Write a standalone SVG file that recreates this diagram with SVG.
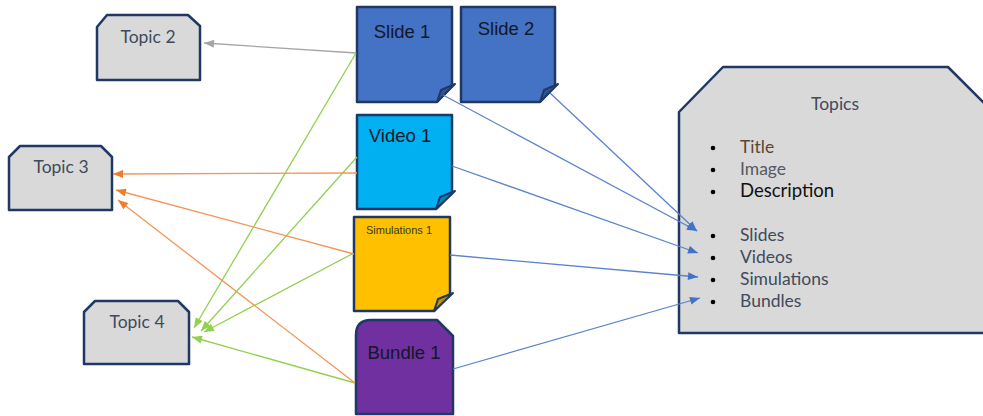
<svg xmlns="http://www.w3.org/2000/svg" width="983" height="416" viewBox="0 0 983 416">
<style>
.box{stroke:#1f3864;stroke-width:2.5;stroke-linejoin:round}
.topic{fill:#d9d9d9}
.tt{font-family:Lato,"Open Sans","Liberation Sans",sans-serif;font-size:17.5px;fill:#3f4a5c;text-anchor:middle}
.nt{font-family:"Liberation Sans",Arial,sans-serif;font-size:18.5px;fill:#111827;text-anchor:middle}
.li{font-family:Lato,"Open Sans","Liberation Sans",sans-serif;font-size:17.5px;fill:#3f4a5c}
.bul{fill:#000}
.c{fill:none;stroke-width:1.3}
.grey{stroke:#a6a6a6}
.green{stroke:#92d050}
.orange{stroke:#f4955a}
.blue{stroke:#5b82cc}
</style>
<defs>
<marker id="ag" viewBox="0 0 10 8" refX="10" refY="4" markerWidth="11" markerHeight="8" markerUnits="userSpaceOnUse" orient="auto"><path d="M0,0 L10,4 L0,8 z" fill="#a6a6a6"/></marker>
<marker id="agr" viewBox="0 0 10 8" refX="10" refY="4" markerWidth="11" markerHeight="8" markerUnits="userSpaceOnUse" orient="auto"><path d="M0,0 L10,4 L0,8 z" fill="#92d050"/></marker>
<marker id="ao" viewBox="0 0 10 8" refX="10" refY="4" markerWidth="11" markerHeight="8" markerUnits="userSpaceOnUse" orient="auto"><path d="M0,0 L10,4 L0,8 z" fill="#ed7d31"/></marker>
<marker id="ab" viewBox="0 0 10 8" refX="10" refY="4" markerWidth="11" markerHeight="8" markerUnits="userSpaceOnUse" orient="auto"><path d="M0,0 L10,4 L0,8 z" fill="#4472c4"/></marker>
</defs>

<g id="topic2">
<polygon class="box topic" points="107,15 188,15 200,26 200,80 97,80 97,27"/>
<text class="tt" x="148" y="43">Topic 2</text>
</g>
<g id="topic3">
<polygon class="box topic" points="20,146 101,146 112,157 112,210 9,210 9,157"/>
<text class="tt" x="61" y="173">Topic 3</text>
</g>
<g id="topic4">
<polygon class="box topic" points="95,301 178,301 189,312 189,364 84,364 84,312"/>
<text class="tt" x="137" y="328">Topic 4</text>
</g>

<g id="slide1">
<polygon class="box" fill="#4472c4" points="357,7 452,7 452,86 437,102 357,102"/>
<path d="M437,102 L441,90 L455,84 Z" fill="#2f5597" stroke="#1f3864" stroke-width="2" stroke-linejoin="round"/>
<text class="nt" x="402" y="38">Slide 1</text>
</g>
<g id="slide2">
<polygon class="box" fill="#4472c4" points="461,7 555,7 555,86 540,102 461,102"/>
<path d="M540,102 L544,90 L558,84 Z" fill="#2f5597" stroke="#1f3864" stroke-width="2" stroke-linejoin="round"/>
<text class="nt" x="506" y="35">Slide 2</text>
</g>
<g id="video1">
<polygon class="box" fill="#00b0f0" points="357,115 452,115 452,193 436,209 357,209"/>
<path d="M436,209 L440,197 L455,191 Z" fill="#0086c0" stroke="#1f3864" stroke-width="2" stroke-linejoin="round"/>
<text class="nt" x="400" y="142">Video 1</text>
</g>
<g id="simulations1">
<polygon class="box" fill="#ffc000" points="354,217 450,217 450,295 434,311 354,311"/>
<path d="M434,311 L438,299 L453,293 Z" fill="#c49000" stroke="#1f3864" stroke-width="2" stroke-linejoin="round"/>
<text x="399" y="234" font-family="'Liberation Sans',Arial,sans-serif" font-size="11" fill="#3a3a1a" text-anchor="middle">Simulations 1</text>
</g>
<g id="bundle1">
<path class="box" fill="#7030a0" d="M371,320 L437,320 L453,336 L453,414 L356,414 L356,335 Q356,320 371,320 Z"/>
<text class="nt" x="404" y="359">Bundle 1</text>
</g>

<g id="topics">
<polygon class="box topic" points="723,67 948,67 992,111 992,333 679,333 679,112"/>
<text class="tt" x="835" y="110">Topics</text>
<circle class="bul" cx="713" cy="148" r="2.3"/>
<circle class="bul" cx="713" cy="170" r="2.3"/>
<circle class="bul" cx="713" cy="192" r="2.3"/>
<circle class="bul" cx="713" cy="236" r="2.3"/>
<circle class="bul" cx="713" cy="258" r="2.3"/>
<circle class="bul" cx="713" cy="280" r="2.3"/>
<circle class="bul" cx="713" cy="302" r="2.3"/>
<text class="li" x="740" y="153" style="fill:#5a4632">Title</text>
<text class="li" x="740" y="175" style="fill:#555a63">Image</text>
<text class="li" x="740" y="197" style="fill:#111;font-size:18.5px">Description</text>
<text class="li" x="740" y="241">Slides</text>
<text class="li" x="740" y="263">Videos</text>
<text class="li" x="740" y="285">Simulations</text>
<text class="li" x="740" y="307">Bundles</text>
</g>

<g id="connectors">
<line class="c grey" x1="356" y1="53" x2="204" y2="43" marker-end="url(#ag)"/>
<line class="c green" x1="356" y1="53" x2="194" y2="328" marker-end="url(#agr)"/>
<line class="c green" x1="357" y1="157" x2="201" y2="331" marker-end="url(#agr)"/>
<line class="c green" x1="352" y1="254" x2="204" y2="332" marker-end="url(#agr)"/>
<line class="c green" x1="355" y1="383" x2="192" y2="337" marker-end="url(#agr)"/>
<line class="c orange" x1="357" y1="173" x2="113" y2="174" marker-end="url(#ao)"/>
<line class="c orange" x1="354" y1="254" x2="116" y2="190" marker-end="url(#ao)"/>
<line class="c orange" x1="355" y1="383" x2="118" y2="200" marker-end="url(#ao)"/>
<line class="c blue" x1="443" y1="95" x2="697" y2="231" marker-end="url(#ab)"/>
<line class="c blue" x1="550" y1="93" x2="697" y2="231" marker-end="url(#ab)"/>
<line class="c blue" x1="452" y1="166" x2="698" y2="253" marker-end="url(#ab)"/>
<line class="c blue" x1="450" y1="255" x2="698" y2="277" marker-end="url(#ab)"/>
<line class="c blue" x1="453" y1="369" x2="700" y2="298" marker-end="url(#ab)"/>
</g>
</svg>
